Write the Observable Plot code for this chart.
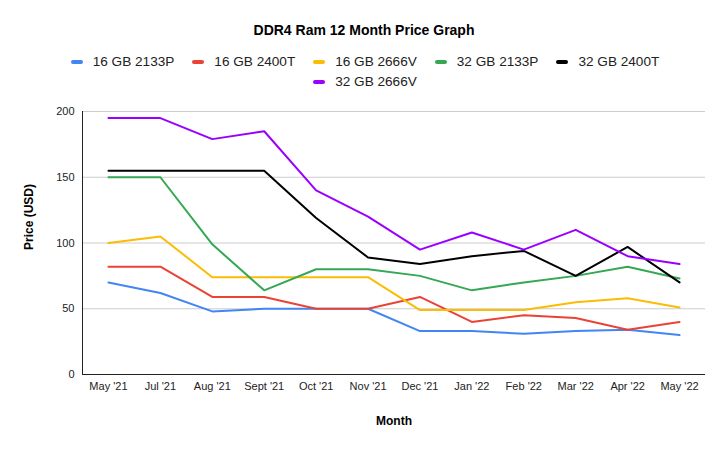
<!DOCTYPE html>
<html>
<head>
<meta charset="utf-8">
<script src="https://cdn.jsdelivr.net/npm/d3@7"></script>
<script src="https://cdn.jsdelivr.net/npm/@observablehq/plot@0.6"></script>
<style>
  html, body { margin: 0; padding: 0; background: #fff; }
  body { width: 728px; height: 449px; overflow: hidden; font-family: Arial, "Liberation Sans", sans-serif; }
  #header { position: relative; height: 95px; }
  #title { position: absolute; top: 22px; left: 0; width: 728px; text-align: center; font-weight: bold; font-size: 14px; color: #000; line-height: 16px; }
  #legend { position: absolute; top: 53px; left: 50px; width: 630px; display: flex; flex-wrap: wrap; justify-content: center; row-gap: 3px; }
  .item { display: flex; align-items: center; height: 17px; margin: 0 9px; font-size: 13.6px; color: #222; }
  .sw { width: 12px; height: 4px; border-radius: 2px; margin-right: 10px; }
</style>
</head>
<body>
<div id="header">
  <div id="title">DDR4 Ram 12 Month Price Graph</div>
  <div id="legend"></div>
</div>
<div id="chart"></div>
<script>
const months = ["May '21","Jul '21","Aug '21","Sept '21","Oct '21","Nov '21","Dec '21","Jan '22","Feb '22","Mar '22","Apr '22","May '22"];
const seriesNames = ["16 GB 2133P","16 GB 2400T","16 GB 2666V","32 GB 2133P","32 GB 2400T","32 GB 2666V"];
const seriesColors = ["#4285f4","#ea4335","#fbbc04","#34a853","#000000","#9900ff"];
const gb16_2133P = [70, 62, 48, 50, 50, 50, 33, 33, 31, 33, 34, 30];
const gb16_2400T = [82, 82, 59, 59, 50, 50, 59, 40, 45, 43, 34, 40];
const gb16_2666V = [100, 105, 74, 74, 74, 74, 49, 49, 49, 55, 58, 51];
const gb32_2133P = [150, 150, 99, 64, 80, 80, 75, 64, 70, 75, 82, 73];
const gb32_2400T = [155, 155, 155, 155, 119, 89, 84, 90, 94, 75, 97, 70];
const gb32_2666V = [195, 195, 179, 185, 140, 120, 95, 108, 95, 110, 90, 84];
const yTicks = [0, 50, 100, 150, 200];
const gridTicks = [50, 100, 150, 200];

const allSeries = [gb16_2133P, gb16_2400T, gb16_2666V, gb32_2133P, gb32_2400T, gb32_2666V];
const data = [];
allSeries.forEach((vals, i) => vals.forEach((v, j) => data.push({series: seriesNames[i], month: months[j], price: v})));

// legend
const legend = document.getElementById("legend");
seriesNames.forEach((name, i) => {
  const it = document.createElement("div");
  it.className = "item";
  const sw = document.createElement("span");
  sw.className = "sw";
  sw.style.background = seriesColors[i];
  const t = document.createElement("span");
  t.textContent = name;
  it.appendChild(sw); it.appendChild(t);
  legend.appendChild(it);
});

const chart = Plot.plot({
  width: 728,
  height: 354,
  marginTop: 16,
  marginBottom: 75,
  marginLeft: 82,
  marginRight: 23,
  style: {fontFamily: "Arial, 'Liberation Sans', sans-serif", fontSize: "11px", color: "#222", background: "#fff"},
  x: {type: "point", domain: months, padding: 0.5, round: false, label: null},
  y: {domain: [0, 200], label: null},
  color: {domain: seriesNames, range: seriesColors},
  marks: [
    Plot.ruleY(gridTicks, {stroke: "#cccccc", strokeWidth: 1}),
    Plot.axisX({tickSize: 0, tickPadding: 8, fontSize: 11, label: null}),
    Plot.axisY({ticks: yTicks, tickSize: 0, tickPadding: 8, fontSize: 11, label: null}),
    Plot.lineY(data, {x: "month", y: "price", z: "series", stroke: "series", strokeWidth: 2, strokeLinejoin: "round"}),
    Plot.ruleY([0], {stroke: "#222", strokeWidth: 1}),
    Plot.frame({anchor: "left", stroke: "#222"}),
    Plot.text(["Price (USD)"], {frameAnchor: "left", dx: -53, dy: 7, rotate: -90, fontWeight: "bold", fontSize: 12, fill: "#000"}),
    Plot.text(["Month"], {frameAnchor: "bottom", dy: 50, fontWeight: "bold", fontSize: 12, fill: "#000"})
  ]
});
document.getElementById("chart").appendChild(chart);
</script>
</body>
</html>
